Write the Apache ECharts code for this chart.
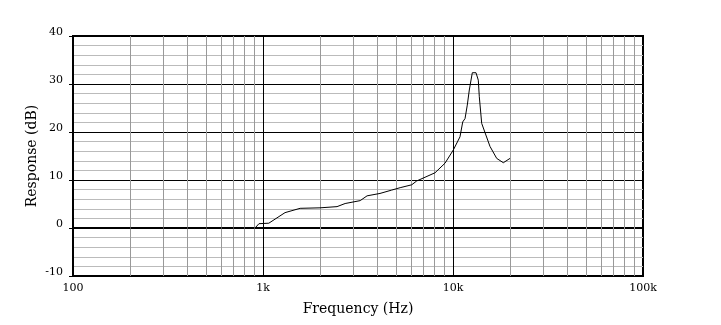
<!DOCTYPE html>
<html>
<head>
<meta charset="utf-8">
<script src="https://cdn.jsdelivr.net/npm/echarts@6/dist/echarts.min.js"></script>
<style>
  html, body { margin: 0; padding: 0; background: #fff; }
  #chart { width: 721px; height: 325px; }
</style>
</head>
<body>
<div id="chart"></div>
<script>
// Frequency response (Hz, dB).
const freqHz = [100, 908, 952, 1073, 1306, 1568, 1995, 2453, 2705, 3247, 3530,
  4128, 4757, 5270, 6063, 6442, 8040, 9077, 10037, 10885, 11250, 11570, 11890,
  12184, 12635, 13213, 13590, 13755, 14160, 15654, 16985, 18400, 19953];
const responseDb = [0, 0, 0.9, 1.0, 3.2, 4.1, 4.2, 4.45, 5.1, 5.7, 6.7,
  7.2, 7.9, 8.4, 9.0, 9.8, 11.5, 13.5, 16.25, 19.0, 22.1, 22.8, 25.6,
  28.75, 32.35, 32.35, 30.8, 27.35, 21.8, 17.0, 14.5, 13.6, 14.5];

// Minor vertical grid at 2..9 of each decade.
const minorFreqs = [200, 300, 400, 500, 600, 700, 800, 900,
  2000, 3000, 4000, 5000, 6000, 7000, 8000, 9000,
  20000, 30000, 40000, 50000, 60000, 70000, 80000, 90000];

const decadeLabels = { 100: '100', 1000: '1k', 10000: '10k', 100000: '100k' };

const FONT = 'DejaVu Serif';

const chart = echarts.init(document.getElementById('chart'));
chart.setOption({
  animation: false,
  backgroundColor: '#fff',
  grid: {
    left: 73, right: 78, top: 36, bottom: 49,
    show: true, borderColor: '#000', borderWidth: 2
  },
  xAxis: {
    type: 'log',
    logBase: 10,
    min: 100,
    max: 100000,
    name: 'Frequency (Hz)',
    nameLocation: 'middle',
    nameGap: 26,
    nameTextStyle: { fontFamily: FONT, fontSize: 14, color: '#000' },
    axisLine: { lineStyle: { color: '#000', width: 2 } },
    axisTick: { show: true, length: 4, lineStyle: { color: '#000' } },
    axisLabel: {
      fontFamily: FONT, fontSize: 11, color: '#000', margin: 7,
      formatter: (v) => decadeLabels[Math.round(v)] || ''
    },
    splitLine: { show: true, lineStyle: { color: '#000', width: 1 } }
  },
  yAxis: {
    type: 'value',
    min: -10,
    max: 40,
    interval: 10,
    name: 'Response (dB)',
    nameLocation: 'middle',
    nameGap: 34,
    nameMoveOverlap: false,
    nameTextStyle: { fontFamily: FONT, fontSize: 14, color: '#000' },
    axisLine: { show: true, lineStyle: { color: '#000', width: 2 } },
    axisTick: { show: true, length: 4, lineStyle: { color: '#000' } },
    axisLabel: {
      fontFamily: FONT, fontSize: 11, color: '#000', margin: 10,
      verticalAlign: 'bottom', lineHeight: 8
    },
    splitLine: { show: true, lineStyle: { color: '#000', width: 1 } },
    minorTick: { show: false, splitNumber: 5 },
    minorSplitLine: { show: true, lineStyle: { color: '#bbb', width: 1 } }
  },
  series: [
    {
      type: 'line',
      data: [],
      z: 1,
      silent: true,
      markLine: {
        silent: true,
        symbol: 'none',
        animation: false,
        label: { show: false },
        lineStyle: { color: '#999', width: 1, type: 'solid' },
        data: minorFreqs.map((f) => ({ xAxis: f }))
      }
    },
    {
      type: 'line',
      z: 5,
      data: freqHz.map((f, i) => [f, responseDb[i]]),
      showSymbol: false,
      lineStyle: { color: '#000', width: 1 }
    }
  ]
});
</script>
</body>
</html>
